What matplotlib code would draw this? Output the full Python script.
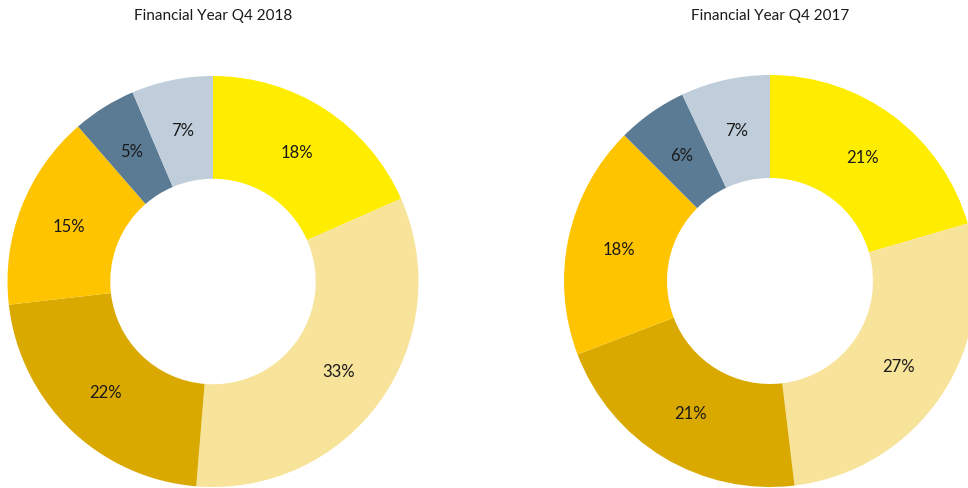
import matplotlib
matplotlib.use('Agg')
import matplotlib.pyplot as plt

plt.rcParams['font.family'] = ['Lato', 'DejaVu Sans']

segments = ['Segment A', 'Segment B', 'Segment C', 'Segment D', 'Segment E', 'Segment F']
# slice sizes, labels as printed
share_2018 = [18.4, 32.9, 21.9, 15.4, 5.0, 6.4]
labels_2018 = ['18%', '33%', '22%', '15%', '5%', '7%']
share_2017 = [20.5, 27.6, 21.1, 18.3, 5.5, 7.0]
labels_2017 = ['21%', '27%', '21%', '18%', '6%', '7%']
colors = ['#FFED00', '#F7E39A', '#D9A900', '#FFC400', '#5B7B94', '#BFCEDA']
titles = ['Financial Year Q4 2018', 'Financial Year Q4 2017']

fig = plt.figure(figsize=(9.68, 4.89), dpi=100)
W, H = 968.0, 489.0


def donut(cx, cy, r, values, labels, title):
    # cx, cy in pixels from top-left
    ax = fig.add_axes([(cx - r) / W, (H - cy - r) / H, 2 * r / W, 2 * r / H])
    it = iter(labels)
    ax.pie(values, colors=colors, startangle=90, counterclock=False,
           wedgeprops=dict(width=0.5, edgecolor='none'),
           autopct=lambda p: next(it), pctdistance=0.75,
           textprops=dict(fontsize=12, color='#1a1a1a'))
    ax.set_xlim(-1, 1)
    ax.set_ylim(-1, 1)
    ax.set_aspect('equal')
    ax.axis('off')
    fig.text(cx / W, 1 - 16 / H, title, ha='center', va='center',
             fontsize=11, color='#1a1a1a')


donut(213, 282.5, 205.5, share_2018, labels_2018, titles[0])
donut(770, 282, 206, share_2017, labels_2017, titles[1])

fig.savefig('out.png', dpi=100)
